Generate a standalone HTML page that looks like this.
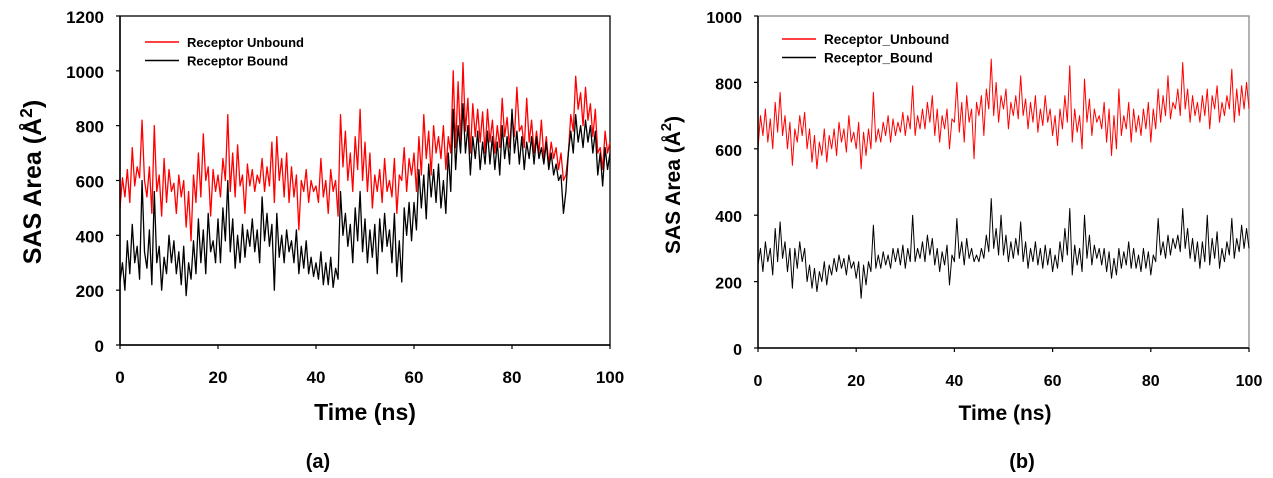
<!DOCTYPE html>
<html><head><meta charset="utf-8">
<style>
html,body{margin:0;padding:0;background:#fff;}
svg{display:block;font-family:"Liberation Sans",Arial,sans-serif;}
</style></head>
<body>
<svg id="fig" width="1273" height="478" viewBox="0 0 1273 478" xmlns="http://www.w3.org/2000/svg"></svg>
<script>
const timeStep = 0.5;
const unboundA = [500,610,540,640,520,720,580,650,610,820,
600,540,650,480,800,560,620,470,680,520,
640,560,590,480,620,540,600,430,560,380,
620,520,700,540,770,600,650,470,640,560,
620,540,680,600,840,560,700,540,730,580,
620,480,660,580,640,560,620,590,680,560,
650,580,740,520,760,600,680,540,700,520,
650,540,620,420,600,560,640,520,600,560,
580,520,680,540,600,480,640,560,600,470,
840,650,780,600,700,560,760,640,860,600,
740,560,700,500,620,560,640,520,680,560,
600,540,680,480,620,600,720,560,680,620,
700,560,760,620,840,680,780,620,800,700,
760,680,800,640,760,700,1000,720,960,740,
1030,780,900,700,880,760,860,740,850,700,
860,740,820,700,800,720,900,760,830,720,
840,760,940,780,800,720,900,740,820,700,
780,700,820,680,760,660,740,680,720,640,
700,600,620,700,840,780,980,860,920,800,
940,820,880,760,860,700,720,640,780,700,740];
const boundA = [230,300,200,380,260,440,300,360,240,600,
340,280,420,220,560,300,360,200,320,260,
400,300,380,260,340,220,360,180,300,240,
380,260,460,300,420,260,480,340,380,300,
460,300,500,380,600,340,460,280,400,300,
440,320,420,360,460,340,420,300,540,380,
480,360,440,200,480,320,400,300,420,340,
380,300,420,260,360,280,380,260,320,250,
300,240,340,220,300,220,320,210,280,240,
560,400,480,360,440,300,500,380,560,340,
460,300,420,320,440,260,460,340,480,360,
420,300,480,250,380,230,500,400,520,380,
520,420,640,500,620,460,660,540,640,520,
660,500,600,480,700,560,860,640,800,700,
880,700,800,620,760,680,780,640,740,660,
780,660,760,640,740,620,800,680,760,660,
860,700,780,660,760,640,740,680,760,660,
760,680,720,660,740,640,700,620,660,600,
620,480,560,700,780,700,840,740,800,720,
820,740,800,700,780,620,700,580,720,640,700];
const unboundB = [600,700,640,720,620,690,600,740,650,770,
640,700,600,680,550,660,620,700,640,710,
600,660,560,640,540,620,580,660,560,640,
600,660,580,680,620,660,590,700,620,650,
600,680,540,650,580,660,600,770,620,660,
620,680,640,700,620,690,640,680,650,710,
640,700,660,790,640,700,660,720,660,740,
680,760,640,720,620,700,660,720,600,690,
680,800,650,740,620,760,680,720,570,740,
700,760,640,780,720,870,700,800,680,760,
720,780,660,740,700,760,690,820,700,750,
660,740,680,760,650,720,670,760,680,720,
640,700,610,720,660,760,680,850,620,720,
650,700,600,810,680,750,640,720,680,700,
660,740,620,720,580,700,600,780,640,700,
660,740,620,720,650,700,640,720,660,740,
620,720,660,780,680,760,700,820,690,740,
720,780,700,860,720,780,680,760,700,740,
680,760,700,780,660,760,720,790,680,740,
700,760,720,840,680,780,700,790,720,800,720];
const boundB = [250,300,230,320,260,300,220,360,260,380,
270,320,230,300,180,300,240,320,260,300,
200,250,180,240,170,230,200,260,190,250,
220,270,230,280,240,270,220,280,240,260,
210,260,150,250,190,260,230,370,240,280,
240,290,250,280,240,300,260,300,250,310,
240,300,260,400,260,300,270,320,260,340,
280,330,250,300,230,290,250,310,190,280,
260,390,270,320,250,330,270,300,260,280,
260,300,270,340,290,450,300,360,280,400,
280,340,260,320,270,330,280,380,260,320,
240,300,260,320,250,300,240,310,250,300,
230,280,240,320,260,360,280,420,220,310,
250,300,230,400,270,340,250,310,270,300,
250,300,230,290,210,270,220,300,240,290,
250,320,240,300,240,280,230,300,240,290,
220,280,260,390,280,320,270,340,280,330,
300,340,290,420,300,360,270,330,260,320,
240,320,260,400,250,330,270,350,240,300,
260,320,280,390,270,330,290,370,300,360,300];
const xTicks = [0,20,40,60,80,100];
const yTicksA = [0,200,400,600,800,1000,1200];
const yTicksB = [0,200,400,600,800,1000];
const legendA = ["Receptor Unbound","Receptor Bound"];
const legendB = ["Receptor_Unbound","Receptor_Bound"];

const NS = "http://www.w3.org/2000/svg";
const svg = document.getElementById('fig');
function mk(tag, attrs, parent){
  const e = document.createElementNS(NS, tag);
  for (const k in attrs) e.setAttribute(k, attrs[k]);
  (parent||svg).appendChild(e);
  return e;
}

function drawPanel(cfg){
  const g = mk('g', {});
  
  
  const sx = v => cfg.x0 + (v - 0) / 100 * (cfg.x1 - cfg.x0);
  const sy = v => cfg.y0 - v / cfg.ymax * (cfg.y0 - cfg.y1);
  const fr = mk('rect', {x:cfg.x0, y:cfg.y1, width:cfg.x1-cfg.x0, height:cfg.y0-cfg.y1, fill:'none', stroke:cfg.frame, 'stroke-width':1.3}, g);
  
  
  function series(vals, color, nm, w){
    let d = '';
    vals.forEach((v,i)=>{ d += (i?'L':'M') + sx(i*timeStep).toFixed(2) + ' ' + sy(v).toFixed(2); });
    const p = mk('path', {d:d, fill:'none', stroke:color, 'stroke-width':w, 'stroke-linejoin':'round'}, g);
    
    
  }
  series(cfg.unbound, '#ff0000', 'unbound-series', cfg.lw);
  series(cfg.bound, '#000000', 'bound-series', cfg.lw);
  mk('line', {x1:cfg.x0, y1:cfg.y0, x2:cfg.x1, y2:cfg.y0, stroke:'#000', 'stroke-width':1.5}, g);
  mk('line', {x1:cfg.x0, y1:cfg.y0, x2:cfg.x0, y2:cfg.y1, stroke:'#000', 'stroke-width':1.5}, g);
  xTicks.forEach(t=>{
    mk('line', {x1:sx(t), y1:cfg.y0, x2:sx(t), y2:cfg.y0+4, stroke:'#000', 'stroke-width':1.2}, g);
    const tx = mk('text', {x:sx(t), y:cfg.y0+38, 'text-anchor':'middle', 'font-size':cfg.tfs, 'font-weight':'bold'}, g);
    tx.textContent = t;
    
    
  });
  cfg.yTicks.forEach(t=>{
    mk('line', {x1:cfg.x0-4, y1:sy(t), x2:cfg.x0, y2:sy(t), stroke:'#000', 'stroke-width':1.2}, g);
    const tx = mk('text', {x:cfg.x0-16, y:sy(t)+7, 'text-anchor':'end', 'font-size':cfg.tfs, 'font-weight':'bold'}, g);
    tx.textContent = t;
    
    
  });
  const xt = mk('text', {x:cfg.xtx, y:420, 'text-anchor':'middle', 'font-size':cfg.afs, 'font-weight':'bold'}, g);
  xt.textContent = 'Time (ns)';
  
  
  const yt = mk('text', {x:0, y:0, 'text-anchor':'middle', 'font-size':cfg.yfs, 'font-weight':'bold', transform:'translate('+cfg.ytx+','+cfg.yty+') rotate(-90)'}, g);
  yt.innerHTML = 'SAS Area (Å<tspan dy="-9" font-size="'+(cfg.yfs*0.7)+'">2</tspan><tspan dy="9">)</tspan>';
  
  
  cfg.legend.forEach((lab,i)=>{
    const ly = cfg.ly + i*18.5;
    const le = mk('g', {}, g);
    
    
    mk('line', {x1:cfg.lx, y1:ly, x2:cfg.lx+34, y2:ly, stroke:i?'#000':'#ff0000', 'stroke-width':1.5}, le);
    const t = mk('text', {x:cfg.lx+42, y:ly+5, 'font-size':cfg.lfs, 'font-weight':'bold'}, le);
    t.textContent = lab;
  });
  const cap = mk('text', {x:cfg.capx, y:468, 'text-anchor':'middle', 'font-size':20, 'font-weight':'bold'}, g);
  cap.textContent = cfg.cap;
  
  
}

drawPanel({name:'chart-a', x0:120, x1:610, y0:345, y1:16, ymax:1200, unbound:unboundA, bound:boundA,
  yTicks:yTicksA, frame:'#000', lw:1.3, tfs:17, afs:23, yfs:25, xtx:365, ytx:41, yty:182, lx:145, ly:42, lfs:13,
  legend:legendA, capx:318, cap:'(a)'});
drawPanel({name:'chart-b', x0:758, x1:1249, y0:348, y1:16, ymax:1000, unbound:unboundB, bound:boundB,
  yTicks:yTicksB, frame:'#888', lw:1.0, tfs:16, afs:21, yfs:21, xtx:1005, ytx:680, yty:185, lx:782, ly:39, lfs:13.5,
  legend:legendB, capx:1022, cap:'(b)'});
</script>
</body></html>
